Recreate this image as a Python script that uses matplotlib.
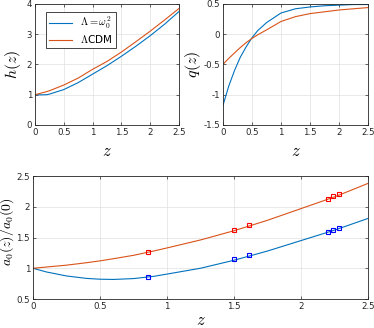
import matplotlib.pyplot as plt
import numpy as np

# Couleurs par défaut MATLAB
BLUE = (0.0, 0.447, 0.741)
ORANGE = (0.85, 0.325, 0.098)

# h(z)
z_h = [0, 0.1, 0.2, 0.25, 0.5, 0.75, 1.0, 1.25, 1.5, 1.75, 2.0, 2.25, 2.5]
h_model = [1.0, 0.995, 1.0, 1.02, 1.17, 1.40, 1.68, 1.96, 2.27, 2.60, 2.95, 3.33, 3.75]
h_lcdm = [1.0, 1.05, 1.10, 1.13, 1.32, 1.55, 1.84, 2.10, 2.41, 2.75, 3.10, 3.47, 3.85]

# q(z)
z_q = [0, 0.1, 0.2, 0.3, 0.4, 0.5, 0.6, 0.75, 1.0, 1.25, 1.5, 1.75, 2.0, 2.25, 2.5]
q_model = [-1.18, -0.86, -0.60, -0.38, -0.21, -0.06, 0.06, 0.19, 0.35, 0.42, 0.45, 0.47, 0.48, 0.49, 0.49]
q_lcdm = [-0.50, -0.40, -0.31, -0.22, -0.14, -0.07, -0.01, 0.07, 0.21, 0.29, 0.34, 0.37, 0.40, 0.42, 0.44]

# a0(z)/a0(0)
z_a = [0, 0.1, 0.25, 0.4, 0.5, 0.6, 0.75, 0.9, 1.0, 1.25, 1.5, 1.75, 2.0, 2.25, 2.5]
a_model = [1.0, 0.94, 0.875, 0.835, 0.822, 0.818, 0.832, 0.868, 0.905, 1.00, 1.13, 1.28, 1.45, 1.62, 1.81]
a_lcdm = [1.0, 1.02, 1.05, 1.09, 1.12, 1.155, 1.21, 1.28, 1.33, 1.46, 1.61, 1.78, 1.97, 2.16, 2.38]

# points de données (carrés)
z_pts = [0.86, 1.50, 1.61, 2.20, 2.24, 2.28]
a_pts_lcdm = [1.265, 1.62, 1.697, 2.13, 2.17, 2.20]
a_pts_model = [0.861, 1.152, 1.217, 1.594, 1.627, 1.654]

plt.rcParams['mathtext.fontset'] = 'cm'
plt.rcParams['font.family'] = 'DejaVu Sans'

fig = plt.figure(figsize=(3.74, 3.28), dpi=100)
ax1 = fig.add_axes([0.0936, 0.619, 0.385, 0.369])
ax2 = fig.add_axes([0.596, 0.619, 0.388, 0.369])
ax3 = fig.add_axes([0.088, 0.0884, 0.896, 0.375])


def style(ax):
    for s in ax.spines.values():
        s.set_color('0.15')
        s.set_linewidth(0.6)
    ax.tick_params(direction='in', length=2.5, width=0.5, labelsize=6.2,
                   colors='0.15', top=True, right=True, pad=2)
    ax.grid(True, color='0.88', linewidth=0.5)
    ax.set_axisbelow(True)
    ax.set_xlim(0, 2.5)
    ax.set_xticks([0, 0.5, 1, 1.5, 2, 2.5])
    ax.set_xticklabels(['0', '0.5', '1', '1.5', '2', '2.5'])
    ax.set_xlabel('$z$', fontsize=12)


ax1.plot(z_h, h_model, color=BLUE, lw=0.8, label=r'$\Lambda=\omega_0^2$')
ax1.plot(z_h, h_lcdm, color=ORANGE, lw=0.8, label=r'$\Lambda$CDM')
style(ax1)
ax1.set_ylim(0, 4)
ax1.set_yticks([0, 1, 2, 3, 4])
ax1.set_ylabel('$h(z)$', fontsize=11.5)
ax1.yaxis.set_label_coords(-0.085, 0.5)
ax1.xaxis.set_label_coords(0.5, -0.14)
leg = ax1.legend(loc='upper left', fontsize=7.5, fancybox=False, framealpha=1,
                 edgecolor='0.15', handlelength=2.2, borderpad=0.3,
                 labelspacing=0.2, bbox_to_anchor=(0.04, 0.98))
leg.get_frame().set_linewidth(0.6)

ax2.plot(z_q, q_model, color=BLUE, lw=0.8)
ax2.plot(z_q, q_lcdm, color=ORANGE, lw=0.8)
style(ax2)
ax2.set_ylim(-1.5, 0.5)
ax2.set_yticks([-1.5, -1, -0.5, 0, 0.5])
ax2.set_yticklabels(['-1.5', '-1', '-0.5', '0', '0.5'])
ax2.set_ylabel('$q(z)$', fontsize=11.5)
ax2.yaxis.set_label_coords(-0.135, 0.5)
ax2.xaxis.set_label_coords(0.5, -0.14)

ax3.plot(z_a, a_model, color=BLUE, lw=0.8)
ax3.plot(z_a, a_lcdm, color=ORANGE, lw=0.8)
ax3.plot(z_pts, a_pts_lcdm, 's', ms=3.2, mfc='none', mec='red', mew=0.8)
ax3.plot(z_pts, a_pts_model, 's', ms=3.2, mfc='none', mec='blue', mew=0.8)
style(ax3)
ax3.set_ylim(0.5, 2.5)
ax3.set_yticks([0.5, 1, 1.5, 2, 2.5])
ax3.set_yticklabels(['0.5', '1', '1.5', '2', '2.5'])
ax3.set_ylabel('$a_0(z)/a_0(0)$', fontsize=10)
ax3.yaxis.set_label_coords(-0.05, 0.55)
ax3.xaxis.set_label_coords(0.5, -0.1)

fig.savefig('out.png', dpi=100)
